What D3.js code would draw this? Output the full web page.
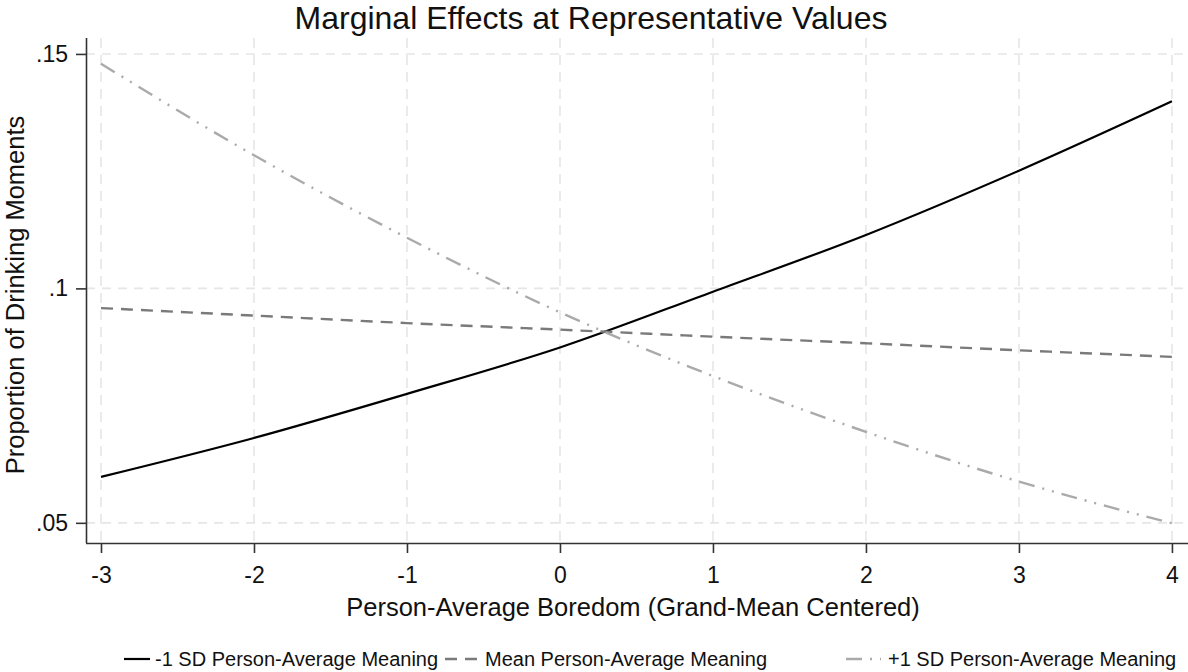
<!DOCTYPE html>
<html>
<head>
<meta charset="utf-8">
<script src="https://cdn.jsdelivr.net/npm/d3@7"></script>
<style>
  html, body { margin: 0; padding: 0; background: #fff; }
  svg { display: block; font-family: Arial, "Liberation Sans", sans-serif; }
</style>
</head>
<body>
<svg id="chart" width="1188" height="672"></svg>
<script>
const xValues = [-3, -2, -1, 0, 1, 2, 3, 4];
const seriesLow  = [0.0598, 0.0681, 0.0775, 0.0874, 0.0993, 0.1114, 0.1251, 0.1399];
const seriesMean = [0.0958, 0.0942, 0.0926, 0.0912, 0.0897, 0.0883, 0.0868, 0.0854];
const seriesHigh = [0.1479, 0.1284, 0.1108, 0.0949, 0.0813, 0.0694, 0.0588, 0.0499];
const yTicks = [0.05, 0.1, 0.15];
const yTickLabels = [".05", ".1", ".15"];
const seriesNames = ["-1 SD Person-Average Meaning", "Mean Person-Average Meaning", "+1 SD Person-Average Meaning"];

(function () {
const svg = d3.select("#chart");
const pL = 86, pR = 1188, pT = 38, pB = 543;
const FONT = "Arial, 'Liberation Sans', sans-serif";

const x = d3.scaleLinear().domain([-3.098, 4.105]).range([pL, pR]);
const y = d3.scaleLinear().domain([0.0457, 0.1534]).range([pB, pT]);

// gridlines
const grid = svg.append("g");
grid.selectAll(".gx").data(xValues).enter().append("line")
  .attr("x1", d => x(d)).attr("x2", d => x(d))
  .attr("y1", pT).attr("y2", pB)
  .attr("stroke", "#e6e6e6").attr("stroke-width", 1.6).attr("stroke-dasharray", "10,7");
grid.selectAll(".gy").data(yTicks).enter().append("line")
  .attr("x1", pL).attr("x2", pR)
  .attr("y1", d => y(d)).attr("y2", d => y(d))
  .attr("stroke", "#e6e6e6").attr("stroke-width", 1.6).attr("stroke-dasharray", "9,7");

// axes
const xAxis = d3.axisBottom(x).tickValues(xValues).tickSize(10).tickPadding(14).tickFormat(d => String(d));
const yAxis = d3.axisLeft(y).tickValues(yTicks).tickSize(10).tickPadding(8).tickFormat((d, i) => yTickLabels[i]);

const gx = svg.append("g").attr("transform", `translate(0,${pB})`).call(xAxis);
gx.select(".domain").attr("d", `M${pL},0.5H${pR}`).attr("stroke", "#333").attr("stroke-width", 1.6);
gx.selectAll(".tick line").attr("stroke", "#333").attr("stroke-width", 1.6);
gx.selectAll(".tick text").attr("font-size", 23).attr("fill", "#111").attr("font-family", FONT);

const gy = svg.append("g").attr("transform", `translate(${pL},0)`).call(yAxis);
gy.select(".domain").attr("d", `M0.5,${pT}V${pB}`).attr("stroke", "#333").attr("stroke-width", 1.6);
gy.selectAll(".tick line").attr("stroke", "#333").attr("stroke-width", 1.6);
gy.selectAll(".tick text").attr("font-size", 23).attr("fill", "#111").attr("font-family", FONT);

// lines
const line = d3.line().x((d, i) => x(xValues[i])).y(d => y(d)).curve(d3.curveMonotoneX);
const styles = [
  { data: seriesLow,  color: "#000000", dash: null, width: 2.2 },
  { data: seriesMean, color: "#7a7a7a", dash: "12,8", width: 2.4 },
  { data: seriesHigh, color: "#aaaaaa", dash: "16,8,2,8,2,8", width: 2.4 }
];
styles.forEach(s => {
  svg.append("path").datum(s.data).attr("d", line)
    .attr("fill", "none").attr("stroke", s.color).attr("stroke-width", s.width)
    .attr("stroke-dasharray", s.dash);
});

// title
svg.append("text").attr("x", 591).attr("y", 29).attr("text-anchor", "middle")
  .attr("font-size", 32).attr("fill", "#111").text("Marginal Effects at Representative Values");

// axis titles
svg.append("text").attr("x", 633).attr("y", 616).attr("text-anchor", "middle")
  .attr("font-size", 25.5).attr("fill", "#111").text("Person-Average Boredom (Grand-Mean Centered)");
svg.append("text").attr("transform", "translate(24,295) rotate(-90)").attr("text-anchor", "middle")
  .attr("font-size", 25.5).attr("fill", "#111").text("Proportion of Drinking Moments");

// legend
const legendItems = [
  { x1: 124, x2: 150, tx: 155 },
  { x1: 445, x2: 478, tx: 485 },
  { x1: 846, x2: 881, tx: 888 }
];
const ly = 659;
legendItems.forEach((it, i) => {
  const s = styles[i];
  svg.append("line").attr("x1", it.x1).attr("x2", it.x2).attr("y1", ly).attr("y2", ly)
    .attr("stroke", s.color).attr("stroke-width", s.width).attr("stroke-dasharray", s.dash);
  svg.append("text").attr("x", it.tx).attr("y", ly + 7).attr("font-size", 20).attr("fill", "#111")
    .text(seriesNames[i]);
});
})();
</script>
</body>
</html>
